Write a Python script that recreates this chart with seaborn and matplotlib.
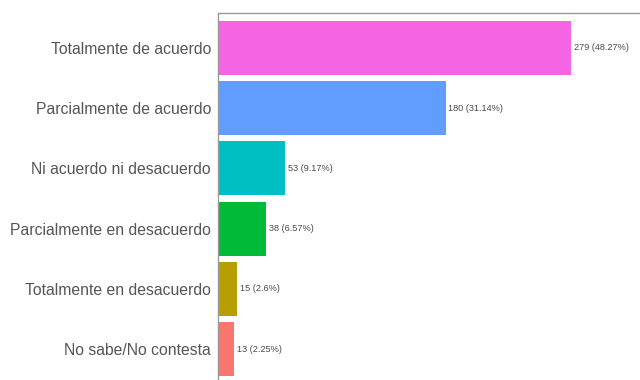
import matplotlib
matplotlib.use("Agg")
import matplotlib.pyplot as plt
import seaborn as sns
import pandas as pd

categorias = [
    "Totalmente de acuerdo",
    "Parcialmente de acuerdo",
    "Ni acuerdo ni desacuerdo",
    "Parcialmente en desacuerdo",
    "Totalmente en desacuerdo",
    "No sabe/No contesta",
]
respuestas = [279, 180, 53, 38, 15, 13]
colores = ["#F564E3", "#619CFF", "#00BFC4", "#00BA38", "#B79F00", "#F8766D"]

total = sum(respuestas)
df = pd.DataFrame({"categoria": categorias, "n": respuestas})

sns.set_style("white")
plt.rcParams["font.family"] = ["Liberation Sans", "DejaVu Sans"]

fig = plt.figure(figsize=(6.4, 3.8), dpi=100)
ax = fig.add_axes([218 / 640, -4 / 380, 430 / 640, 1 - 13 / 380 + 4 / 380])

sns.barplot(data=df, x="n", y="categoria", hue="categoria", palette=colores,
            order=categorias, hue_order=categorias, width=0.9, legend=False,
            saturation=1, linewidth=0, ax=ax)

for i, v in enumerate(respuestas):
    pct = round(100 * v / total, 2)
    ax.text(v + 2.2, i, f"{v} ({pct:g}%)", va="center", ha="left",
            fontsize=6.6, color="#4a4a4a")

ax.set_xlim(0, 340)
ax.set_ylim(5.58, -0.58)
ax.set_xlabel("")
ax.set_ylabel("")
ax.set_xticks([])
ax.tick_params(axis="y", length=0, pad=5, labelsize=11.3, labelcolor="#555555")
for s in ax.spines.values():
    s.set_color("#9a9a9a")
    s.set_linewidth(1.0)

fig.savefig("out.png", dpi=100)
